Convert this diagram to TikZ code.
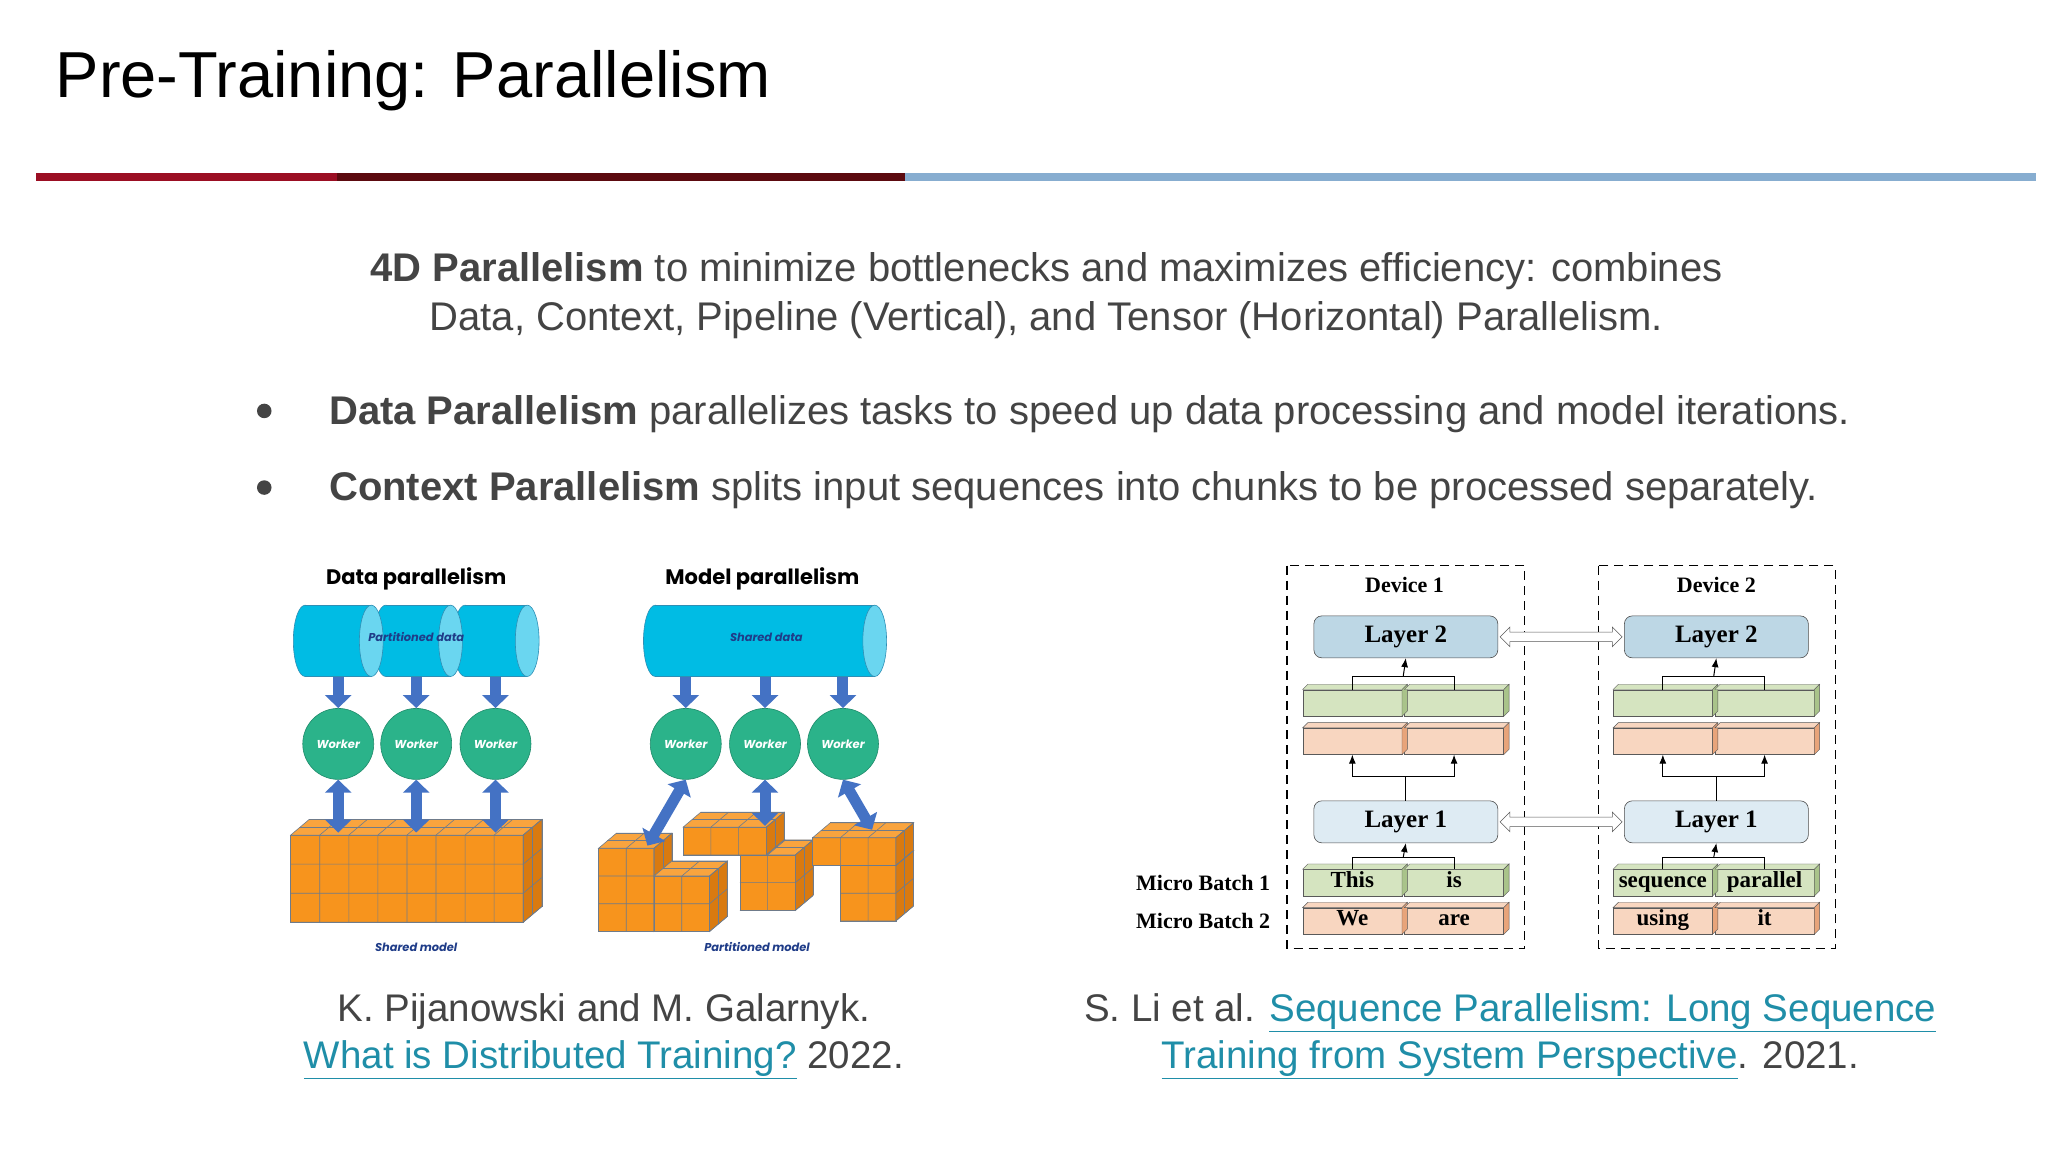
\documentclass[tikz,border=0pt]{standalone}
\usepackage{fontspec}
\setmainfont{Liberation Sans}
\newfontfamily\pop{Poppins}
\newfontfamily\tms{Liberation Serif}
\usetikzlibrary{arrows.meta,shapes.arrows,calc}
\definecolor{redA}{HTML}{9B0E23}
\definecolor{redB}{HTML}{5C0A0F}
\definecolor{blueA}{HTML}{87ADD0}
\definecolor{txt}{HTML}{444444}
\definecolor{lnk}{HTML}{1F8EA8}
\definecolor{cylb}{HTML}{00BCE4}
\definecolor{cylc}{HTML}{6AD6F0}
\definecolor{cyle}{HTML}{2E8FB5}
\definecolor{arr}{HTML}{4472C4}
\definecolor{wk}{HTML}{2BB38A}
\definecolor{wke}{HTML}{1E8A6A}
\definecolor{org}{HTML}{F7941D}
\definecolor{orgt}{HTML}{F9A43E}
\definecolor{orgs}{HTML}{D97A10}
\definecolor{grd}{HTML}{6F7B8A}
\definecolor{dkb}{HTML}{1F3C88}
\definecolor{gfr}{HTML}{D5E4C0}
\definecolor{gsd}{HTML}{A9C38A}
\definecolor{ofr}{HTML}{F8D6C0}
\definecolor{osd}{HTML}{E8A47A}
\definecolor{ltwo}{HTML}{BDD7E5}
\definecolor{lone}{HTML}{DEEBF3}
\newcommand\lnkt[1]{\textcolor{lnk}{\underline{#1}}}
\newcommand\cyl[2]{%
 \filldraw[fill=cylb,draw=cyle,line width=0.6pt] (#1,485) ellipse [x radius=9,y radius=27];
 \fill[cylb] (#1,458) rectangle (#2,512);
 \draw[cyle,line width=0.6pt] (#1,458) -- (#2,458) (#1,512) -- (#2,512);
 \filldraw[fill=cylc,draw=cyle,line width=0.6pt] (#2,485) ellipse [x radius=9,y radius=27];}
% x y ncols nrows ndepth size
\newcommand\cubes[6]{%
 \pgfmathsetmacro\cdx{0.32*#6}\pgfmathsetmacro\cdy{0.27*#6}%
 \filldraw[fill=org,draw=grd,line width=0.6pt] (#1,#2) rectangle ++(#3*#6,#4*#6);
 \filldraw[fill=orgt,draw=grd,line width=0.6pt] (#1,#2) -- ++(#5*\cdx,-#5*\cdy) -- ++(#3*#6,0) -- ++(-#5*\cdx,#5*\cdy) -- cycle;
 \filldraw[fill=orgs,draw=grd,line width=0.6pt] (#1+#3*#6,#2) -- ++(#5*\cdx,-#5*\cdy) -- ++(0,#4*#6) -- ++(-#5*\cdx,#5*\cdy) -- cycle;
 \foreach \i in {1,...,#3}{\draw[grd,line width=0.6pt] (#1+\i*#6,#2) -- ++(0,#4*#6) (#1+\i*#6,#2) -- ++(#5*\cdx,-#5*\cdy);}
 \foreach \j in {1,...,#4}{\draw[grd,line width=0.6pt] (#1,#2+\j*#6) -- ++(#3*#6,0) -- ++(#5*\cdx,-#5*\cdy);}
 \foreach \k in {1,...,#5}{\draw[grd,line width=0.6pt] (#1+\k*\cdx,#2-\k*\cdy) -- ++(#3*#6,0) -- ++(0,#4*#6);}}
\newcommand\depth[3]{%
 \filldraw[fill=#2,draw=gray!70!black,line width=0.4pt] (#1.north west) -- ++(4,-4) -- ($(#1.north east)+(4,-4)$) -- (#1.north east) -- cycle;
 \filldraw[fill=#3,draw=gray!70!black,line width=0.4pt] (#1.north east) -- ++(4,-4) -- ($(#1.south east)+(4,-4)$) -- (#1.south east) -- cycle;}
\tikzset{
 worker/.style={circle,fill=wk,draw=wke,line width=0.6pt,minimum size=71pt,inner sep=0pt,text=white,font=\pop\bfseries\itshape\fontsize{11.5}{13}\selectfont},
 barrow/.style={arr,line width=11pt,-{Triangle[width=26pt,length=13pt]}},
 darrow/.style={arr,line width=11pt,{Triangle[width=26pt,length=13pt]}-{Triangle[width=26pt,length=13pt]}},
 blk/.style={draw=gray!70!black,line width=0.4pt,minimum width=99pt,minimum height=26.4pt,inner sep=0pt,text height=15pt,text depth=5pt,font=\tms\bfseries\fontsize{23}{25}\selectfont},
 gblk/.style={blk,fill=gfr},
 oblk/.style={blk,fill=ofr},
 layer/.style={draw=gray!60!black,line width=0.6pt,rounded corners=8pt,minimum width=184pt,minimum height=42pt,inner sep=0pt,font=\tms\bfseries\fontsize{25}{27}\selectfont},
 dev/.style={font=\tms\bfseries\fontsize{22}{24}\selectfont},
 mb/.style={anchor=east,font=\tms\bfseries\fontsize{22}{24}\selectfont},
 thin/.style={line width=1pt},
 tarr/.style={line width=1pt,-{Latex[length=9pt,width=7pt]}},
 dbl/.style={double arrow,draw=gray!70!black,fill=white,line width=0.6pt,inner sep=4.5pt,double arrow head extend=5pt,minimum height=122pt},
 body/.style={text=txt,font=\fontsize{40}{44}\selectfont},
 cite/.style={text=txt,font=\fontsize{38.5}{43}\selectfont},
 figt/.style={font=\pop\bfseries\fontsize{21}{24}\selectfont},
 figs/.style={text=dkb,font=\pop\bfseries\itshape\fontsize{11.4}{13}\selectfont},
}
\begin{document}
\begin{tikzpicture}[x=1.3215pt,y=-1.3215pt]
\useasboundingbox[fill=white] (0,0) rectangle (1550,872);
% title
\node[anchor=base west,inner sep=0pt,font=\fontsize{65}{70}\selectfont] (title) at (42,74) {Pre-Training: Parallelism};
\fill[redA] (27,131) rectangle (255,137);
\fill[redB] (255,131) rectangle (685,137);
\fill[blueA] (685,131) rectangle (1541,137);
% body
\node[body,anchor=base] (l1) at (792,213) {\textbf{4D Parallelism} to minimize bottlenecks and maximizes efficiency: combines};
\node[body,anchor=base] (l2) at (792,250) {Data, Context, Pipeline (Vertical), and Tensor (Horizontal) Parallelism.};
\fill[txt] (200,311) circle (5.5);
\fill[txt] (200,369) circle (5.5);
\node[body,anchor=base west,inner sep=0pt] (b1) at (249,321) {\textbf{Data Parallelism} parallelizes tasks to speed up data processing and model iterations.};
\node[body,anchor=base west,inner sep=0pt] (b2) at (249,379) {\textbf{Context Parallelism} splits input sequences into chunks to be processed separately.};
% citations
\node[cite,anchor=base] (c1) at (457,773) {K. Pijanowski and M. Galarnyk.};
\node[cite,anchor=base] (c2) at (457,809) {\lnkt{What is Distributed Training?} 2022.};
\node[cite,anchor=base] (c3) at (1143,773) {S. Li et al. \lnkt{Sequence Parallelism: Long Sequence}};
\node[cite,anchor=base] (c4) at (1143,809) {\lnkt{Training from System Perspective}. 2021.};
% ---------- left figure
\node[figt] (dpt) at (315,438) {Data parallelism};
\node[figt] (mpt) at (577,438) {Model parallelism};
\cyl{352}{399}\cyl{292}{341}\cyl{231}{281}
\cyl{496}{662}
\node[figs] (pd) at (315,482) {Partitioned data};
\node[figs] (sd) at (580,482) {Shared data};
\foreach \n/\x in {w1/256,w2/315,w3/375,w4/519,w5/579,w6/638}{\node[worker] (\n) at (\x,563) {Worker};}
\foreach \n/\x in {w1/256,w2/315,w3/375,w4/519,w5/579,w6/638}{\coordinate (t\n) at (\x,512); \draw[barrow] (t\n) -- (\n.north);}
\cubes{220}{632}{8}{3}{2}{22}
\foreach \n in {w1,w2,w3}{\coordinate (g\n) at ($(\n.south)+(0,40)$); \draw[darrow] (\n.south) -- (g\n);}
% partitioned model
\cubes{453}{642}{2}{3}{2}{21}
\cubes{495}{663}{2}{2}{2}{21}
\cubes{560}{647}{2}{2}{2}{21}
\cubes{517}{626}{3}{1}{2}{21}
\cubes{636}{655}{2}{2}{2}{21}
\cubes{615}{634}{3}{1}{2}{21}
\coordinate (p4) at (490,640);
\coordinate (p5) at (579,625);
\coordinate (p6) at (660,628);
\draw[darrow] (w4.south) -- (p4);
\draw[darrow] (w5.south) -- (p5);
\draw[darrow] (w6.south) -- (p6);
\node[figs] (smod) at (315,717) {Shared model};
\node[figs] (pmod) at (573,717) {Partitioned model};
% ---------- right figure
\draw[dashed,dash pattern=on 9pt off 6pt,line width=1.3pt] (974,428) rectangle (1154,718);
\draw[dashed,dash pattern=on 9pt off 6pt,line width=1.3pt] (1210,428) rectangle (1389,718);
\node[dev] (d1) at (1063,443) {Device 1};
\node[dev] (d2) at (1299,443) {Device 2};
\node[layer,fill=ltwo] (la2) at (1064,482) {Layer 2};
\node[layer,fill=ltwo] (lb2) at (1299,482) {Layer 2};
\node[layer,fill=lone] (la1) at (1064,622) {Layer 1};
\node[layer,fill=lone] (lb1) at (1299,622) {Layer 1};
\path (la2.east) -- (lb2.west) node[dbl,midway] (da2) {};
\path (la1.east) -- (lb1.west) node[dbl,midway] (da1) {};
\foreach \s/\xa/\xb in {a/1023.5/1100.5,b/1258.5/1335.5}{
 \node[gblk] (g\s1) at (\xa,532) {}; \node[gblk] (g\s2) at (\xb,532) {};
 \node[oblk] (o\s1) at (\xa,561) {}; \node[oblk] (o\s2) at (\xb,561) {};
 \depth{g\s1}{gfr}{gsd}\depth{g\s2}{gfr}{gsd}\depth{o\s1}{ofr}{osd}\depth{o\s2}{ofr}{osd}
 \draw[thin] (g\s1.north) -- ++(0,-10) -| (g\s2.north);
 \coordinate (m\s2) at ($(g\s1.north)!0.5!(g\s2.north)+(0,-10)$);
 \draw[tarr] (m\s2) -- (l\s2.south);
 \coordinate (n\s) at ($(l\s1.north)+(0,-18)$);
 \draw[thin] (l\s1.north) -- (n\s);
 \draw[tarr] (n\s) -| (o\s1.south);
 \draw[tarr] (n\s) -| (o\s2.south);
}
\node[gblk] (ta1) at (1023.5,668) {This};
\node[gblk] (ta2) at (1100.5,668) {is};
\node[oblk] (ua1) at (1023.5,697) {We};
\node[oblk] (ua2) at (1100.5,697) {are};
\node[gblk] (tb1) at (1258.5,668) {sequence};
\node[gblk] (tb2) at (1335.5,668) {parallel};
\node[oblk] (ub1) at (1258.5,697) {using};
\node[oblk] (ub2) at (1335.5,697) {it};
\foreach \s in {a,b}{
 \depth{t\s1}{gfr}{gsd}\depth{t\s2}{gfr}{gsd}\depth{u\s1}{ofr}{osd}\depth{u\s2}{ofr}{osd}
 \draw[thin] (t\s1.north) -- ++(0,-9) -| (t\s2.north);
 \coordinate (k\s) at ($(t\s1.north)!0.5!(t\s2.north)+(0,-9)$);
 \draw[tarr] (k\s) -- (l\s1.south);
}
\node[mb] (mb1) at (964,668) {Micro Batch 1};
\node[mb] (mb2) at (964,697) {Micro Batch 2};
\end{tikzpicture}
\end{document}
